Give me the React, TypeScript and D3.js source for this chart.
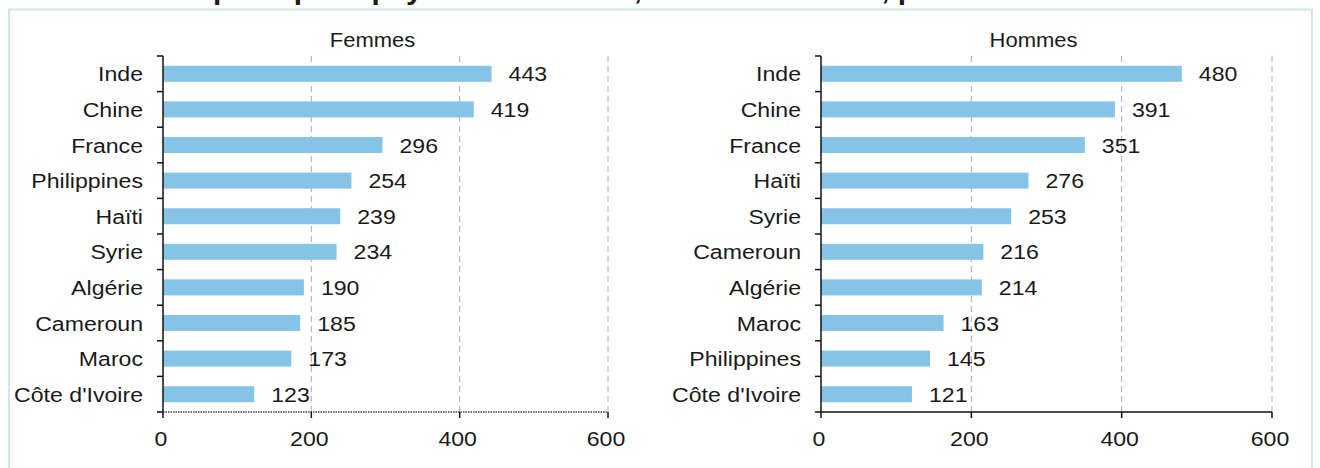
import React from 'react';
import * as d3 from 'd3';

const { scaleLinear, scaleBand, range } = d3;

// Femmes
const femmesPays = [
  'Inde',
  'Chine',
  'France',
  'Philippines',
  'Haïti',
  'Syrie',
  'Algérie',
  'Cameroun',
  'Maroc',
  "Côte d'Ivoire",
];
const femmesValeurs = [443, 419, 296, 254, 239, 234, 190, 185, 173, 123];

// Hommes
const hommesPays = [
  'Inde',
  'Chine',
  'France',
  'Haïti',
  'Syrie',
  'Cameroun',
  'Algérie',
  'Maroc',
  'Philippines',
  "Côte d'Ivoire",
];
const hommesValeurs = [480, 391, 351, 276, 253, 216, 214, 163, 145, 121];

const xTicks = [0, 200, 400, 600];

const W = 1320;
const H = 468;
const FONT = '"Liberation Sans", Arial, sans-serif';
const BAR = '#86c4e7';
const GRID = '#b7a0cc';
const STRETCH = 1.1;

type PanelProps = {
  title: string;
  pays: string[];
  valeurs: number[];
  left: number;
  right: number;
  dotted?: boolean;
};

const Txt = ({
  x,
  y,
  anchor = 'start',
  size = 21,
  weight = 'normal',
  children,
}: {
  x: number;
  y: number;
  anchor?: string;
  size?: number;
  weight?: string;
  children: React.ReactNode;
}) => (
  <g transform={`translate(${x},${y}) scale(${STRETCH},1)`}>
    <text
      textAnchor={anchor as any}
      fontSize={size}
      fontWeight={weight}
      fill="#1a1a1a"
      fontFamily={FONT}
    >
      {children}
    </text>
  </g>
);

const Panel = ({ title, pays, valeurs, left, right, dotted }: PanelProps) => {
  const top = 56;
  const bottom = 412;
  const x = scaleLinear().domain([0, 600]).range([left, right]);
  const y = scaleBand<string>()
    .domain(pays)
    .range([top, bottom])
    .paddingInner(0.55)
    .paddingOuter(0.275);
  const step = (bottom - top) / pays.length;

  return (
    <g>
      <Txt x={(left + right) / 2 - 13} y={47} anchor="middle" size={20}>
        {title}
      </Txt>

      {xTicks
        .filter(t => t > 0)
        .map(t => (
          <line
            key={`g${t}`}
            x1={x(t)}
            x2={x(t)}
            y1={top}
            y2={bottom}
            stroke={GRID}
            strokeWidth={1}
            strokeDasharray="6,4"
          />
        ))}

      {pays.map((p, i) => (
        <rect
          key={p}
          x={x(0)}
          y={y(p)}
          width={x(valeurs[i]) - x(0)}
          height={y.bandwidth()}
          fill={BAR}
        />
      ))}

      {pays.map((p, i) => (
        <Txt
          key={`v${p}`}
          x={x(valeurs[i]) + 17}
          y={(y(p) as number) + y.bandwidth() / 2 + 7.5}
        >
          {valeurs[i]}
        </Txt>
      ))}

      {pays.map(p => (
        <Txt
          key={`c${p}`}
          x={left - 20}
          y={(y(p) as number) + y.bandwidth() / 2 + 7.5}
          anchor="end"
        >
          {p}
        </Txt>
      ))}

      {/* axe vertical */}
      <line x1={left} x2={left} y1={top} y2={bottom} stroke="#111" strokeWidth={1.5} />
      {range(pays.length + 1).map(k => (
        <line
          key={`yt${k}`}
          x1={left - 6}
          x2={left}
          y1={top + k * step}
          y2={top + k * step}
          stroke="#111"
          strokeWidth={1.5}
        />
      ))}

      {/* axe horizontal */}
      <line
        x1={left}
        x2={right}
        y1={bottom}
        y2={bottom}
        stroke={dotted ? '#444' : '#111'}
        strokeWidth={1.5}
        strokeDasharray={dotted ? '1.5,1' : undefined}
      />
      {xTicks.map(t => (
        <g key={`xt${t}`}>
          <line
            x1={x(t)}
            x2={x(t)}
            y1={bottom}
            y2={bottom + 6}
            stroke="#111"
            strokeWidth={1.5}
          />
          <Txt x={x(t) - 2} y={446} anchor="middle">
            {t}
          </Txt>
        </g>
      ))}
    </g>
  );
};

export default function App() {
  return (
    <svg
      width={W}
      height={H}
      style={{ position: 'absolute', left: 0, top: 0, background: '#fff' }}
    >
      {/* titre (coupé en haut, comme dans l'original) */}
      <Txt x={207} y={-1} anchor="end" size={27} weight="bold">
        Nombre d'admissions des
      </Txt>
      <Txt x={213} y={-1} size={27} weight="bold">
        principaux pays de naissance, moins de 35 ans, par sexe
      </Txt>

      <rect
        x={9}
        y={9.5}
        width={1303}
        height={470}
        fill="#fff"
        stroke="#cfe5ec"
        strokeWidth={2}
      />

      <Panel
        title="Femmes"
        pays={femmesPays}
        valeurs={femmesValeurs}
        left={163}
        right={608}
        dotted
      />
      <Panel
        title="Hommes"
        pays={hommesPays}
        valeurs={hommesValeurs}
        left={821}
        right={1272}
      />
    </svg>
  );
}
